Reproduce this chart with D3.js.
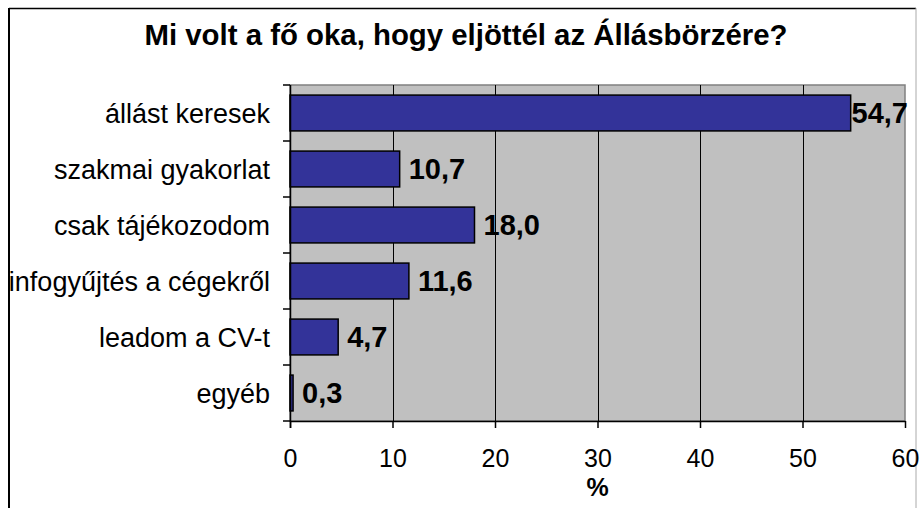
<!DOCTYPE html>
<html>
<head>
<meta charset="utf-8">
<script src="https://cdn.jsdelivr.net/npm/d3@7"></script>
<style>
  body { margin: 0; background: #fff; }
  text { font-family: "Liberation Sans", Arial, sans-serif; fill: #000; }
</style>
</head>
<body>
<div id="chart"></div>
<script>
const chartTitle = "Mi volt a fő oka, hogy eljöttél az Állásbörzére?";
const categories = ["állást keresek", "szakmai gyakorlat", "csak tájékozodom", "infogyűjtés a cégekről", "leadom a CV-t", "egyéb"];
const percentValues = [54.7, 10.7, 18.0, 11.6, 4.7, 0.3];
const xTicks = [0, 10, 20, 30, 40, 50, 60];
const xAxisLabel = "%";

const width = 922, height = 508;
const plot = { left: 290, right: 905, top: 85, bottom: 421 };

const svg = d3.select("#chart").append("svg")
    .attr("width", width)
    .attr("height", height);

// outer frame
svg.append("line").attr("x1", 9).attr("x2", 916).attr("y1", 8.5).attr("y2", 8.5)
    .attr("stroke", "#000").attr("stroke-width", 1.5);
svg.append("line").attr("x1", 9).attr("x2", 9).attr("y1", 8).attr("y2", height)
    .attr("stroke", "#000").attr("stroke-width", 2);
svg.append("line").attr("x1", 916).attr("x2", 916).attr("y1", 8).attr("y2", height)
    .attr("stroke", "#aaa").attr("stroke-width", 1);

svg.append("text")
    .attr("x", 466)
    .attr("y", 45)
    .attr("text-anchor", "middle")
    .attr("textLength", 643)
    .attr("lengthAdjust", "spacingAndGlyphs")
    .style("font-size", "29px")
    .style("font-weight", "bold")
    .text(chartTitle);

const x = d3.scaleLinear().domain([0, 60]).range([plot.left, plot.right]);
const y = d3.scaleBand().domain(categories).range([plot.top, plot.bottom])
    .paddingInner(0.36).paddingOuter(0.18);

// plot background
svg.append("rect")
    .attr("x", plot.left).attr("y", plot.top)
    .attr("width", plot.right - plot.left).attr("height", plot.bottom - plot.top)
    .attr("fill", "#c0c0c0")
    .attr("stroke", "#808080")
    .attr("stroke-width", 1.5);

// vertical gridlines
svg.selectAll(".grid")
    .data(xTicks.filter(t => t > 0 && t < 60))
    .enter().append("line")
    .attr("class", "grid")
    .attr("x1", d => Math.round(x(d)) + 0.5).attr("x2", d => Math.round(x(d)) + 0.5)
    .attr("y1", plot.top).attr("y2", plot.bottom)
    .attr("stroke", "#000").attr("stroke-width", 1);

// bars
svg.selectAll(".bar")
    .data(percentValues)
    .enter().append("rect")
    .attr("class", "bar")
    .attr("x", x(0))
    .attr("y", (d, i) => y(categories[i]))
    .attr("width", d => x(d) - x(0))
    .attr("height", y.bandwidth())
    .attr("fill", "#333399")
    .attr("stroke", "#000")
    .attr("stroke-width", 1.5);

// value labels
svg.selectAll(".val")
    .data(percentValues)
    .enter().append("text")
    .attr("class", "val")
    .attr("y", (d, i) => y(categories[i]) + y.bandwidth() / 2)
    .attr("dy", "0.36em")
    .style("font-size", "29px")
    .style("font-weight", "bold")
    .text(d => d3.format(".1f")(d).replace(".", ","))
    .attr("x", function (d) {
        const w = this.getComputedTextLength();
        return Math.min(x(d) + 9, plot.right + 3 - w);
    });

// left axis
const yAxis = svg.append("g")
    .attr("transform", `translate(${plot.left},0)`);
yAxis.append("line")
    .attr("x1", 0.5).attr("x2", 0.5).attr("y1", plot.top).attr("y2", plot.bottom + 7)
    .attr("stroke", "#000").attr("stroke-width", 1.5);
yAxis.selectAll(".ytick")
    .data(d3.range(categories.length + 1))
    .enter().append("line")
    .attr("x1", -7).attr("x2", 0)
    .attr("y1", i => plot.top + i * y.step()).attr("y2", i => plot.top + i * y.step())
    .attr("stroke", "#000").attr("stroke-width", 1.5);
yAxis.selectAll(".ylabel")
    .data(categories)
    .enter().append("text")
    .attr("x", -20)
    .attr("y", d => y(d) + y.bandwidth() / 2)
    .attr("dy", "0.36em")
    .attr("text-anchor", "end")
    .style("font-size", "27px")
    .text(d => d);

// bottom axis
const xAxis = svg.append("g")
    .attr("transform", `translate(0,${plot.bottom})`)
    .call(d3.axisBottom(x).tickValues(xTicks).tickSize(7).tickPadding(21).tickSizeOuter(0));
xAxis.select(".domain").attr("stroke", "#000").attr("stroke-width", 1.5);
xAxis.selectAll(".tick line").attr("stroke", "#000").attr("stroke-width", 1.5);
xAxis.selectAll(".tick text")
    .style("font-family", "'Liberation Sans', Arial, sans-serif")
    .style("font-size", "25px")
    .attr("fill", "#000");

svg.append("text")
    .attr("x", (plot.left + plot.right) / 2)
    .attr("y", 496)
    .attr("text-anchor", "middle")
    .style("font-size", "25px")
    .style("font-weight", "bold")
    .text(xAxisLabel);
</script>
</body>
</html>
